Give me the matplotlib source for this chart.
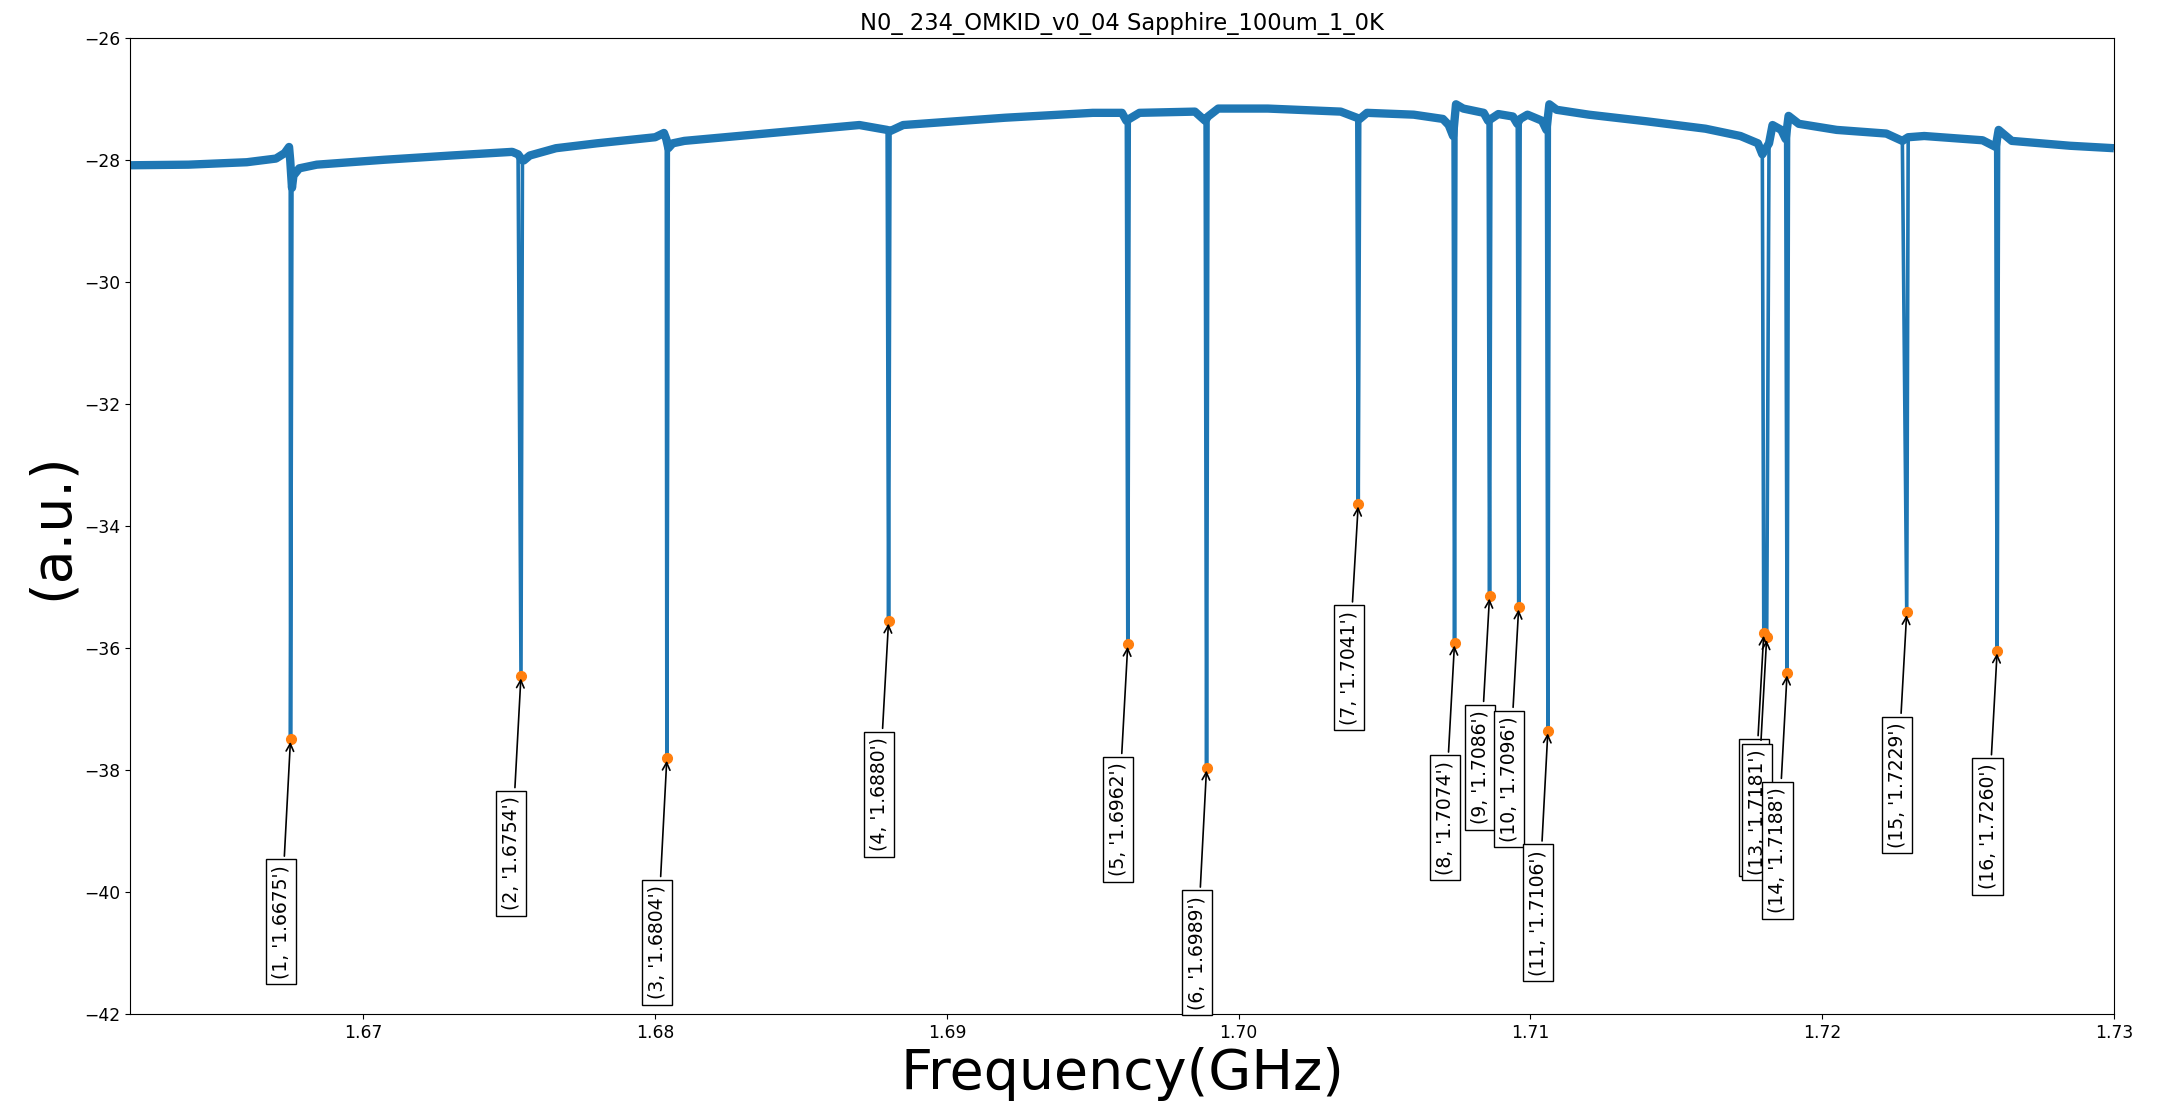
import matplotlib
matplotlib.use("Agg")
import matplotlib.pyplot as plt
import numpy as np

# resonances: frequency (GHz) from the labels, dip minimum (a.u.)
res_f = [1.6675, 1.6754, 1.6804, 1.6880, 1.6962, 1.6989, 1.7041, 1.7074,
         1.7086, 1.7096, 1.7106, 1.7180, 1.7181, 1.7188, 1.7229, 1.7260]
res_min = [-37.49, -36.45, -37.80, -35.55, -35.93, -37.96, -33.63, -35.91,
           -35.14, -35.32, -37.35, -35.75, -35.82, -36.40, -35.41, -36.04]

# baseline trace (frequency, level)
base_f = [1.6620, 1.6640, 1.6660, 1.6670, 1.6673, 1.66745, 1.66749,
          1.66755, 1.6676, 1.6678, 1.6684, 1.6707, 1.6730, 1.6751, 1.67530,
          1.67545, 1.67550, 1.6757, 1.6766, 1.6780, 1.6800, 1.68030, 1.68038,
          1.68045, 1.6806, 1.6810, 1.6840, 1.6870, 1.68795,
          1.68805, 1.6885, 1.6920, 1.6950, 1.6960, 1.69615,
          1.69625, 1.6966, 1.6985, 1.69885,
          1.69895, 1.6993, 1.7010, 1.7035, 1.70405,
          1.70415, 1.7044, 1.7060, 1.7070, 1.7072, 1.70735,
          1.70745, 1.7077, 1.7084, 1.70855,
          1.70865, 1.7089, 1.7094, 1.70955,
          1.70965, 1.7099, 1.7104, 1.71055,
          1.71065, 1.7109, 1.7120, 1.7140, 1.7160, 1.7172, 1.7178, 1.71795,
          1.71818, 1.7183, 1.7186, 1.71875,
          1.71885, 1.7192, 1.7205, 1.7222, 1.72275,
          1.72295, 1.7235, 1.7255, 1.72595,
          1.72605, 1.7265, 1.7285, 1.7300]
base_db = [-28.08, -28.07, -28.03, -27.97, -27.88, -27.78, -28.00,
           -28.45, -28.25, -28.13, -28.07, -27.99, -27.92, -27.86, -27.90,
           -28.00, -28.00, -27.92, -27.80, -27.72, -27.62, -27.55, -27.65,
           -27.80, -27.72, -27.68, -27.55, -27.42, -27.50,
           -27.52, -27.42, -27.30, -27.22, -27.22, -27.35,
           -27.32, -27.22, -27.20, -27.35,
           -27.28, -27.15, -27.15, -27.20, -27.30,
           -27.32, -27.22, -27.25, -27.32, -27.42, -27.60,
           -27.08, -27.15, -27.22, -27.35,
           -27.32, -27.24, -27.28, -27.40,
           -27.32, -27.25, -27.35, -27.50,
           -27.08, -27.17, -27.25, -27.36, -27.48, -27.60, -27.72, -27.90,
           -27.72, -27.42, -27.50, -27.65,
           -27.27, -27.40, -27.50, -27.56, -27.68,
           -27.62, -27.60, -27.67, -27.78,
           -27.50, -27.68, -27.76, -27.80]

full = sorted(list(zip(base_f, base_db)) + list(zip(res_f, res_min)))
full_f = [p[0] for p in full]
full_db = [p[1] for p in full]

fig = plt.figure(figsize=(21.57, 11.08), dpi=100)
ax = fig.add_axes([0.0603, 0.0848, 0.9197, 0.8805])

ax.plot(base_f, base_db, color='C0', lw=6, solid_capstyle='butt')
ax.plot(full_f, full_db, color='C0', lw=2.6)
ax.plot(res_f, res_min, 'o', color='C1', ms=7, zorder=3)

for i, (f, m) in enumerate(zip(res_f, res_min)):
    ax.annotate(str((i + 1, '%.4f' % f)), xy=(f, m), xytext=(f - 0.00033, m * 1.08),
                rotation=90, ha='center', va='center', fontsize=13.5,
                bbox=dict(boxstyle='square', fc='white', ec='black'),
                arrowprops=dict(arrowstyle='->', color='black', lw=1.2), zorder=4)

ax.set_xlim(1.662, 1.73)
ax.set_ylim(-42, -26)
ax.set_yticks(np.arange(-42, -25, 2))
ax.tick_params(labelsize=12.3)
ax.set_title('N0_ 234_OMKID_v0_04 Sapphire_100um_1_0K', fontsize=16.3)
ax.set_xlabel('Frequency(GHz)', fontsize=40)
ax.set_ylabel('(a.u.)', fontsize=40)

fig.savefig('out.png', dpi=100)
